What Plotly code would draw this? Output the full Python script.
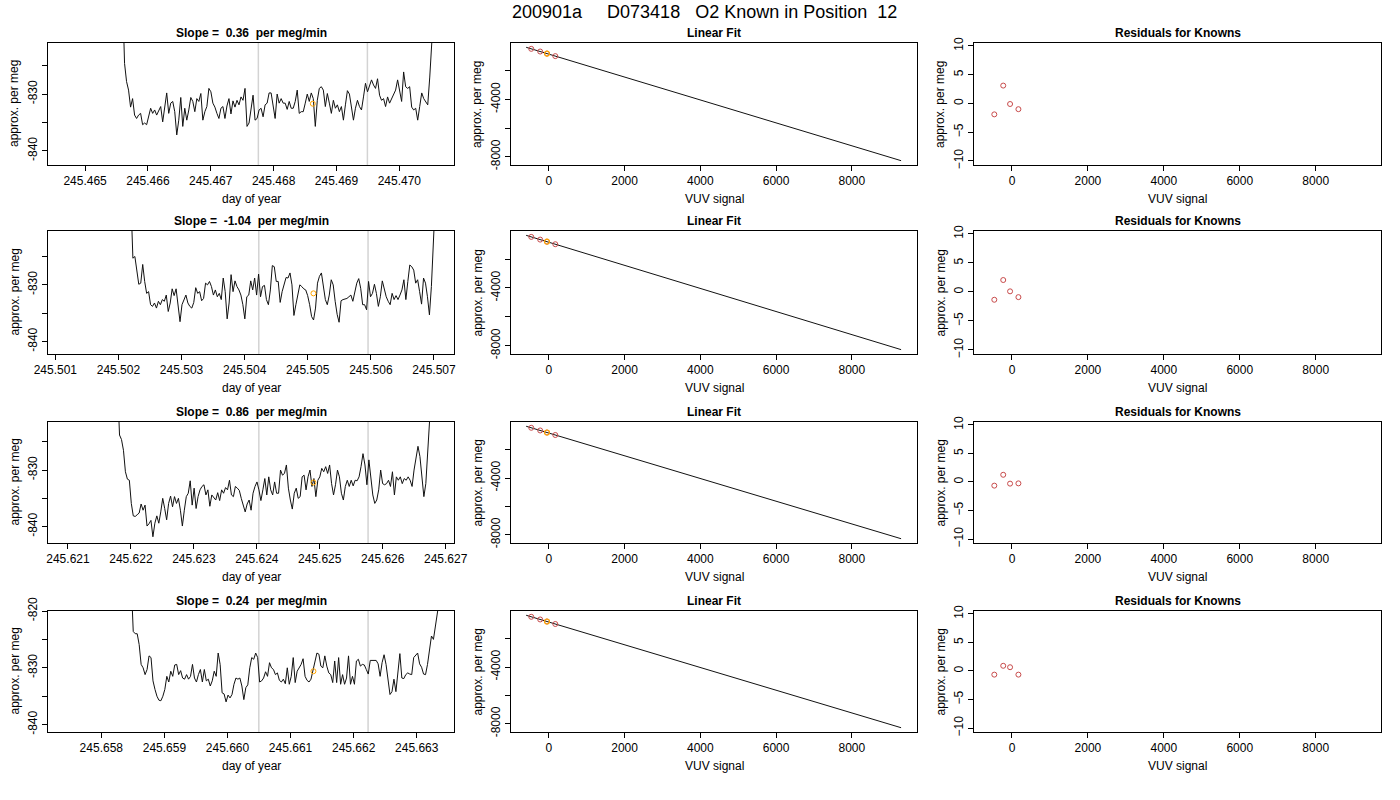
import numpy as np
import plotly.graph_objs as go
from plotly.subplots import make_subplots

main_title = "200901a     D073418   O2 Known in Position  12"

# time series of each known run (approx. per meg vs day of year)
run_start = [245.465596, 245.502198, 245.621788, 245.658475]
run_end = [245.470548, 245.507021, 245.626778, 245.663359]

run1 = [-812, -824.6, -827.8, -829.3, -832.3, -830.8, -833.7, -834.3, -833.7, -833.4, -835.4, -835.1,
        -835.4, -834.0, -832.5, -833.4, -832.8, -833.7, -832.8, -832.2, -834.9, -832.2, -829.8, -833.4,
        -831.6, -831.3, -833.1, -837.2, -834.6, -830.6, -835.7, -832.5, -834.6, -832.8, -830.6, -831.3,
        -833.1, -830.8, -831.3, -829.9, -834.6, -833.1, -832.2, -829.0, -829.6, -831.6, -832.3, -833.4,
        -834.3, -832.5, -832.2, -834.3, -832.1, -830.8, -833.5, -831.2, -832.3, -831.1, -831.9, -830.5,
        -831.1, -829.0, -835.7, -835.1, -832.2, -830.2, -834.6, -834.3, -832.8, -832.5, -834.0, -831.9,
        -831.6, -829.8, -829.8, -832.1, -834.3, -830.0, -831.6, -830.8, -831.6, -831.6, -832.7, -831.3,
        -832.5, -832.5, -831.3, -829.3, -833.4, -833.1, -833.1, -831.6, -830.0, -831.3, -829.8, -830.8,
        -835.7, -831.1, -829.0, -828.7, -829.3, -832.2, -829.9, -831.6, -833.4, -831.1, -832.5, -831.9,
        -833.1, -832.2, -834.6, -831.9, -829.4, -830.0, -832.2, -834.6, -832.5, -831.1, -832.2, -832.8,
        -830.5, -828.1, -829.6, -828.7, -827.5, -828.4, -829.0, -827.3, -830.2, -831.1, -830.8, -832.2,
        -830.5, -831.6, -830.8, -830.2, -829.3, -827.5, -829.6, -831.3, -826.1, -828.7, -829.0, -828.7,
        -832.3, -832.8, -832.5, -834.6, -832.2, -829.8, -830.8, -831.3, -831.9, -827.0, -821.0, -815]
run2 = [-815, -825.3, -825.0, -827.6, -829.9, -829.7, -826.4, -829.4, -831.5, -831.2, -833.5, -833.8,
        -833.2, -834.1, -832.9, -833.5, -832.6, -832.9, -831.8, -834.7, -833.2, -830.7, -831.9, -830.7,
        -833.5, -836.5, -833.5, -832.8, -831.8, -833.2, -833.8, -834.1, -833.1, -830.5, -831.5, -831.2,
        -832.8, -832.4, -829.7, -830.0, -829.4, -830.3, -831.8, -830.9, -832.1, -831.5, -832.6, -828.8,
        -831.2, -836.0, -833.2, -828.2, -831.2, -829.3, -830.3, -830.9, -831.8, -833.5, -836.0, -832.1,
        -831.8, -829.3, -830.9, -828.8, -831.8, -828.1, -832.1, -830.3, -830.1, -832.6, -833.5, -830.9,
        -826.6, -826.8, -829.4, -829.4, -833.1, -831.2, -830.0, -828.7, -828.8, -827.9, -830.0, -835.4,
        -833.5, -831.8, -830.0, -830.3, -830.7, -830.9, -831.9, -833.5, -835.6, -836.2, -834.1, -829.7,
        -828.5, -827.9, -830.0, -832.6, -833.5, -831.8, -829.1, -830.0, -832.9, -835.2, -836.6, -832.8,
        -832.6, -832.5, -832.4, -832.1, -831.8, -832.9, -831.2, -829.7, -828.9, -830.6, -833.5, -833.5,
        -834.4, -829.4, -832.1, -831.5, -829.9, -831.5, -833.8, -832.1, -829.3, -830.9, -832.1, -832.9,
        -833.5, -831.5, -832.6, -831.9, -832.6, -831.8, -830.9, -829.1, -832.6, -829.4, -826.5, -826.8,
        -827.4, -829.7, -829.1, -831.2, -833.4, -828.8, -829.7, -832.1, -835.3, -830.3, -820.9, -815]
run3 = [-815, -823.8, -824.6, -826.5, -830.3, -831.6, -831.8, -835.9, -838.1, -838.2, -837.9, -837.6,
        -836.0, -837.1, -836.2, -839.9, -839.5, -838.9, -841.8, -839.4, -838.1, -839.4, -837.4, -835.0,
        -836.8, -838.8, -835.9, -834.6, -836.5, -834.7, -835.9, -835.0, -837.1, -839.9, -837.1, -834.7,
        -834.1, -831.9, -836.2, -833.2, -836.8, -834.7, -833.5, -832.9, -832.6, -834.4, -833.5, -836.4,
        -834.4, -834.8, -835.3, -834.0, -835.4, -833.5, -834.1, -833.1, -833.5, -831.8, -834.4, -834.7,
        -832.9, -833.2, -833.6, -835.0, -836.2, -837.4, -836.0, -835.3, -837.1, -834.1, -832.9, -832.1,
        -833.5, -835.4, -833.5, -831.5, -834.4, -831.2, -833.5, -834.4, -832.1, -834.1, -834.1, -830.0,
        -830.9, -830.6, -829.1, -833.2, -835.3, -836.9, -834.1, -833.2, -835.0, -834.7, -831.2, -830.9,
        -833.5, -831.2, -830.0, -832.9, -831.5, -834.7, -831.8, -831.2, -829.7, -830.3, -829.4, -830.6,
        -829.1, -832.4, -834.4, -832.6, -830.0, -831.2, -834.1, -835.3, -832.9, -831.8, -832.9, -831.8,
        -832.8, -831.8, -831.9, -831.2, -829.4, -827.1, -829.1, -832.6, -828.2, -831.8, -834.4, -835.9,
        -835.3, -833.5, -830.0, -832.4, -832.6, -832.4, -831.8, -832.9, -830.3, -834.4, -831.2, -831.8,
        -831.2, -832.4, -831.5, -831.8, -831.2, -831.8, -832.9, -830.0, -828.2, -825.8, -827.6, -831.8,
        -834.7, -832.4, -827.1, -821.5, -815]
run4 = [-815, -823.6, -824.0, -824.0, -825.9, -829.4, -830.0, -831.2, -830.3, -827.9, -828.2, -832.3,
        -833.8, -835.0, -835.7, -835.8, -835.0, -833.8, -831.5, -832.5, -830.6, -831.5, -829.5, -829.4,
        -831.2, -830.5, -831.8, -832.0, -831.2, -832.0, -831.5, -829.4, -831.8, -832.5, -831.2, -830.3,
        -832.5, -830.3, -832.3, -832.0, -833.2, -832.3, -830.6, -831.5, -827.4, -829.4, -834.4, -834.6,
        -836.0, -834.8, -835.3, -834.7, -832.9, -831.8, -832.0, -831.8, -833.2, -835.6, -833.5, -833.0,
        -830.0, -828.2, -828.5, -827.4, -828.2, -832.5, -832.3, -831.8, -830.7, -831.5, -829.1, -830.0,
        -830.3, -831.2, -830.9, -832.2, -832.5, -832.0, -832.8, -830.0, -832.9, -831.5, -828.2, -832.6,
        -830.6, -830.0, -829.4, -828.4, -831.5, -832.2, -832.5, -832.0, -830.3, -828.5, -827.4, -827.6,
        -829.7, -830.0, -827.9, -829.7, -830.9, -831.2, -832.6, -828.8, -832.6, -828.2, -832.9, -831.2,
        -832.9, -831.8, -827.9, -832.9, -831.5, -832.9, -828.8, -828.5, -829.7, -829.4, -829.5, -830.3,
        -831.1, -828.7, -828.7, -828.7, -828.7, -829.3, -831.5, -829.1, -827.7, -829.4, -832.5, -834.7,
        -834.2, -832.0, -834.2, -830.3, -827.5, -831.8, -831.9, -831.2, -830.9, -831.1, -831.2, -828.2,
        -827.8, -827.4, -829.3, -829.9, -831.1, -831.2, -829.4, -827.1, -824.4, -825.0, -822.1, -820.1,
        -818]
runs = [run1, run2, run3, run4]

slopes = ["0.36", "-1.04", "0.86", "0.24"]

# averaging window edges (grey lines) and the averaged value (orange point)
window_t = [[245.467757, 245.469492], [245.504224, 245.505955],
            [245.624032, 245.625767], [245.660497, 245.662229]]
mean_t = [245.468624, 245.505090, 245.624899, 245.661363]
mean_v = [-831.7, -831.5, -832.2, -830.6]

# knowns: VUV signal vs assigned value, and the fitted line
known_x = [-465, -230, -50, 170]
known_y = [-464, -652, -796, -972]
fit_x = [-600, 9300]
fit_y = [-356, -8276]
this_known = 2

residuals = [[-1.9, 3.1, -0.1, -1.0],
             [-1.35, 2.05, 0.1, -0.9],
             [-0.65, 1.25, -0.3, -0.25],
             [-0.65, 0.9, 0.65, -0.65]]

W, H = 1400, 800
FONT = "Liberation Sans, Arial, sans-serif"
RED = "rgb(200,75,75)"
ORANGE = "#FFA500"

# panel boxes in pixels
col_px = [(48, 454), (511, 917), (974, 1381)]
row_px = [(43, 165), (231, 354), (422, 543), (611, 732)]
x_ranges = [[245.46441, 245.47087], [245.500884, 245.507317],
            [245.620683, 245.627132], [245.657155, 245.663591]]
y_ranges = [[-842.5, -821.0], [-842.2, -820.5], [-842.9, -821.5], [-841.3, -820.0]]


def px(x):
    return x / W


def py(y):
    return 1 - y / H


def label(text, x, y, size=12, angle=0):
    return dict(text=text, x=px(x), y=py(y), xref="paper", yref="paper", showarrow=False,
                xanchor="center", yanchor="middle", textangle=angle,
                font=dict(family=FONT, size=size, color="black"))


fig = make_subplots(rows=4, cols=3)

axis_style = dict(showgrid=False, zeroline=False, showline=True, mirror=True, linecolor="black",
                  linewidth=1, ticks="outside", ticklen=5, tickwidth=1, tickcolor="black",
                  automargin=False,
                  tickfont=dict(family=FONT, size=12, color="black"))

annotations = [label(main_title, 704, 12, size=18)]

for r in range(4):
    t = np.linspace(run_start[r], run_end[r], len(runs[r]))
    fig.add_trace(go.Scatter(x=t, y=runs[r], mode="lines", line=dict(color="#111", width=1),
                             showlegend=False), row=r + 1, col=1)
    fig.add_trace(go.Scatter(x=[mean_t[r]], y=[mean_v[r]], mode="markers", showlegend=False,
                             marker=dict(symbol="circle-open", size=5, color=ORANGE,
                                         line=dict(width=1, color=ORANGE))), row=r + 1, col=1)
    for wt in window_t[r]:
        fig.add_vline(x=wt, line=dict(color="#D3D3D3", width=1.5), layer="below", row=r + 1, col=1)

    fig.add_trace(go.Scatter(x=fit_x, y=fit_y, mode="lines", line=dict(color="#111", width=1),
                             showlegend=False), row=r + 1, col=2)
    fig.add_trace(go.Scatter(x=known_x, y=known_y, mode="markers", showlegend=False,
                             marker=dict(symbol="circle-open", size=5, color=RED,
                                         line=dict(width=1, color=RED))), row=r + 1, col=2)
    fig.add_trace(go.Scatter(x=[known_x[this_known]], y=[known_y[this_known]], mode="markers",
                             showlegend=False,
                             marker=dict(symbol="circle-open", size=5, color=ORANGE,
                                         line=dict(width=1.2, color=ORANGE))), row=r + 1, col=2)

    fig.add_trace(go.Scatter(x=known_x, y=residuals[r], mode="markers", showlegend=False,
                             marker=dict(symbol="circle-open", size=5, color=RED,
                                         line=dict(width=1, color=RED))), row=r + 1, col=3)

    top, bot = row_px[r]
    for c in range(3):
        idx = r * 3 + c + 1
        xa = "xaxis" if idx == 1 else f"xaxis{idx}"
        ya = "yaxis" if idx == 1 else f"yaxis{idx}"
        left, right = col_px[c]
        if c == 0:
            xs = dict(range=x_ranges[r], tick0=245.0, dtick=0.001, tickformat=".3f")
            yv = list(range(-845, -814, 5))
            ys = dict(range=y_ranges[r], tickvals=yv,
                      ticktext=[str(v) if v % 10 == 0 else "" for v in yv])
            title = f"Slope =\u00a0\u00a0{slopes[r]}\u00a0\u00a0per meg/min"
            xtitle = "day of year"
        elif c == 1:
            xs = dict(range=[-1000, 9720], tick0=0, dtick=2000)
            ys = dict(range=[-8578, -56], tickvals=[-8000, -6000, -4000, -2000],
                      ticktext=["-8000", "", "-4000", ""])
            title = "Linear Fit"
            xtitle = "VUV signal"
        else:
            xs = dict(range=[-1000, 9720], tick0=0, dtick=2000)
            ys = dict(range=[-10.7, 10.5], tick0=0, dtick=5)
            title = "Residuals for Knowns"
            xtitle = "VUV signal"
        fig.update_layout({
            xa: dict(domain=[px(left), px(right)], **xs, **axis_style),
            ya: dict(domain=[py(bot), py(top)], tickangle=-90, **ys, **axis_style),
        })
        cx = (left + right) / 2
        annotations.append(label(f"<b>{title}</b>", cx, top - 10))
        annotations.append(label(xtitle, cx, bot + 34))
        annotations.append(label("approx. per meg", left - 34, (top + bot) / 2, angle=-90))

fig.update_layout(width=W, height=H, margin=dict(l=0, r=0, t=0, b=0),
                  paper_bgcolor="white", plot_bgcolor="white", showlegend=False,
                  annotations=annotations)

fig.write_html("out.html", config={"displayModeBar": False},
               post_script="document.body.style.margin='0';")
